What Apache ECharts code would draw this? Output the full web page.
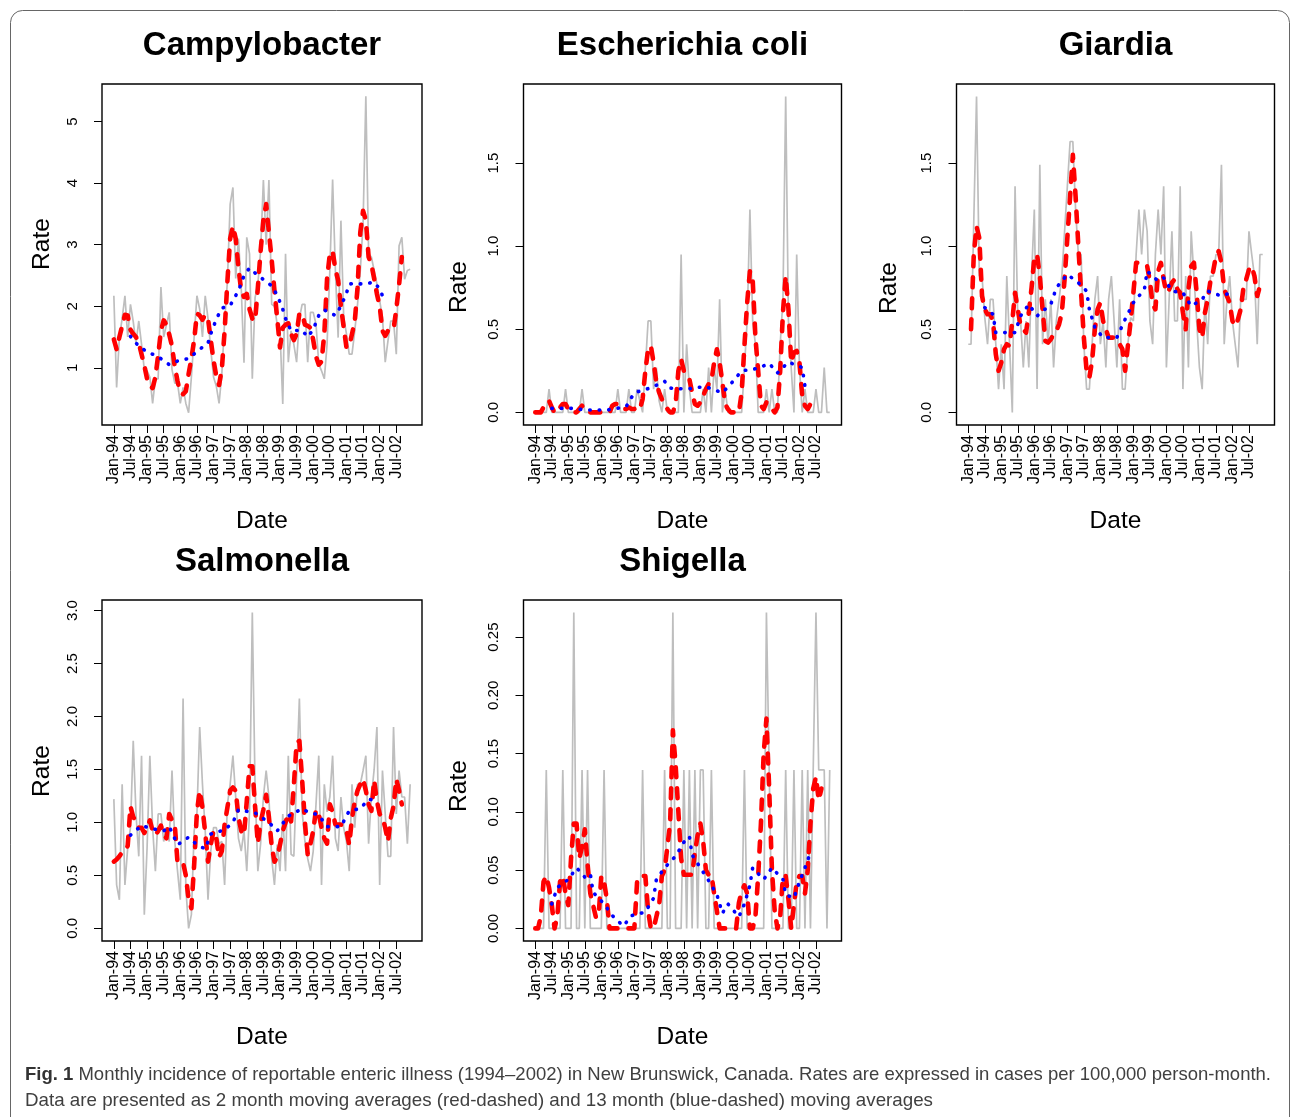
<!DOCTYPE html>
<html><head><meta charset="utf-8">
<script src="https://cdn.jsdelivr.net/npm/echarts@6.0.0/dist/echarts.min.js"></script>
<style>html,body{margin:0;padding:0;background:#fff}#c{width:1290px;height:1117px}</style>
</head><body><div id="c"></div>
<script>
// ---------- shared axis data ----------
const xTickMonths = [0,6,12,18,24,30,36,42,48,54,60,66,72,78,84,90,96,102];
const xTickLabels = ['Jan-94','Jul-94','Jan-95','Jul-95','Jan-96','Jul-96','Jan-97','Jul-97','Jan-98','Jul-98','Jan-99','Jul-99','Jan-00','Jul-00','Jan-01','Jul-01','Jan-02','Jul-02'];

// ---------- Campylobacter ----------
const campyYTicks = [1,2,3,4,5];
const campyYLabels = ['1','2','3','4','5'];
const campyGray = [2.17,0.68,1.50,1.80,2.17,1.50,2.03,1.75,1.40,1.76, 1.38,0.97,0.95,0.85,0.42,0.82,0.82,2.31,1.50,1.70, 1.90,0.97,0.75,0.75,0.42,0.68,0.42,0.27,0.85,1.50, 2.17,1.95,1.50,2.17,1.80,1.30,0.85,0.70,0.42,0.90, 1.75,2.40,3.66,3.93,2.45,3.10,2.30,1.08,3.12,2.85, 0.82,2.14,2.36,2.90,4.05,3.00,4.05,2.03,2.00,1.70, 1.60,0.41,2.85,1.09,1.60,1.38,1.09,1.80,2.03,2.03, 1.09,1.90,1.90,1.71,1.06,0.95,0.82,1.38,2.58,4.06, 2.58,1.49,3.39,1.82,1.55,1.22,1.22,1.60,2.03,2.58, 3.34,5.41,2.85,2.80,2.58,2.36,2.09,1.82,1.09,1.44, 1.76,1.76,1.22,2.98,3.12,2.44,2.58,2.60];
const campyRed = [1.46,1.30,1.50,1.68,1.86,1.85,1.62,1.55,1.50,1.40, 1.22,1.04,0.82,0.70,0.67,0.85,1.20,1.60,1.77,1.70, 1.54,1.35,1.02,0.78,0.60,0.57,0.62,0.90,1.15,1.45, 1.88,1.85,1.78,1.86,1.80,1.45,1.12,0.86,0.72,0.98, 1.60,2.40,3.10,3.30,3.10,2.62,2.25,2.15,2.20,1.95, 1.80,1.76,2.30,2.90,3.40,3.66,3.20,2.75,2.25,1.80, 1.33,1.65,1.70,1.72,1.55,1.45,1.55,1.88,1.88,1.70, 1.68,1.65,1.45,1.18,1.05,1.10,1.55,2.45,2.85,2.90, 2.60,2.42,2.00,1.66,1.33,1.35,1.55,1.75,2.30,3.20, 3.55,3.40,2.80,2.68,2.45,2.20,2.00,1.60,1.52,1.60, 1.60,1.62,1.95,2.35,2.80];
const campyBlueMonths = [6,9,12,16,20,23,27,31,34,35,37,39,42,44,46,47,49,52,55,57,59,61,62,64,68,70,72,74,76,80,82,84,85,87,90,94,96,98];
const campyBlueValues = [1.51,1.35,1.26,1.18,1.05,1.11,1.15,1.30,1.40,1.55,1.79,1.97,2.01,2.17,2.36,2.50,2.62,2.50,2.40,2.33,2.18,1.95,1.80,1.60,1.61,1.50,1.62,1.85,1.94,1.85,2.00,2.21,2.36,2.37,2.36,2.39,2.28,2.06];

// ---------- Escherichia coli ----------
const ecoliYTicks = [0,0.5,1.0,1.5];
const ecoliYLabels = ['0.0','0.5','1.0','1.5'];
const ecoliGray = [0,0,0,0,0,0.14,0,0,0,0, 0,0.14,0,0,0,0,0,0.14,0,0, 0,0,0,0,0,0,0,0,0,0, 0.14,0,0,0,0.14,0,0,0.14,0.07,0, 0.27,0.55,0.55,0.14,0.27,0.07,0,0.14,0,0, 0,0,0,0.95,0,0.41,0.14,0,0,0, 0,0.14,0,0.27,0,0.27,0.14,0.68,0,0.14, 0,0,0,0,0,0,0.27,0.55,1.22,0.55, 0.41,0,0,0,0.14,0,0.14,0,0,0.41, 0.68,1.90,0.55,0.27,0,0.95,0.27,0,0.14,0, 0,0,0.14,0,0,0.27,0,0];
const ecoliRed = [0,0,0,0.03,0.06,0.07,0.03,0,0,0.03, 0.05,0.05,0.02,0,0,0,0.02,0.04,0.02,0, 0,0,0,0,0,0,0,0,0.04,0.05, 0.05,0.04,0.02,0.02,0.03,0.02,0.02,0.03,0.02,0.08, 0.25,0.38,0.40,0.30,0.18,0.12,0.08,0.05,0.02,0, 0,0.05,0.25,0.32,0.25,0.22,0.20,0.12,0.05,0.04, 0.06,0.10,0.14,0.17,0.19,0.30,0.38,0.30,0.18,0.05, 0.02,0,0,0,0,0.12,0.40,0.66,0.85,0.80, 0.45,0.25,0.04,0.02,0.06,0.04,0.02,0,0.03,0.25, 0.60,0.82,0.62,0.30,0.36,0.37,0.30,0.10,0.04,0.02, 0.05,0.06,0.07,0.08];
const ecoliBlueMonths = [6,13,19,26,33,36,42,47,49,55,59,62,68,71,75,81,85,88,92,97,98];
const ecoliBlueValues = [0.024,0.024,0.014,0.014,0.034,0.118,0.148,0.187,0.146,0.140,0.150,0.154,0.118,0.170,0.250,0.265,0.295,0.237,0.303,0.270,0.158];

// ---------- Giardia ----------
const giardiaYTicks = [0,0.5,1.0,1.5];
const giardiaYLabels = ['0.0','0.5','1.0','1.5'];
const giardiaGray = [0.41,0.41,1.15,1.90,0.82,0.82,0.57,0.41,0.68,0.68, 0.41,0.14,0.41,0.14,0.82,0.41,0.00,1.36,0.55,0.55, 0.27,0.55,0.27,0.82,1.22,0.14,1.49,0.41,0.68,0.41, 0.68,0.27,0.55,0.68,0.82,1.09,1.36,1.63,1.63,1.22, 0.95,0.95,0.41,0.14,0.14,0.41,0.68,0.82,0.41,0.55, 0.27,0.68,0.82,0.55,0.27,0.68,0.14,0.14,0.41,0.57, 0.55,0.95,1.22,0.95,1.22,1.09,0.55,0.41,0.95,1.22, 0.95,1.36,0.27,0.68,1.09,0.55,0.55,1.36,0.14,0.82, 0.27,1.09,0.82,0.55,0.27,0.14,0.68,0.41,0.82,0.82, 0.95,0.95,1.49,0.41,0.68,0.82,0.55,0.41,0.27,0.68, 0.68,0.68,1.09,0.95,0.82,0.41,0.95,0.95];
const giardiaRed = [null,0.50,0.95,1.12,1.05,0.70,0.62,0.59,0.59,0.55, 0.35,0.25,0.30,0.38,0.41,0.40,0.55,0.72,0.62,0.52, 0.50,0.48,0.60,0.75,0.93,0.95,0.82,0.62,0.43,0.42, 0.44,0.47,0.49,0.53,0.60,0.80,1.05,1.30,1.55,1.30, 1.00,0.72,0.45,0.25,0.21,0.31,0.50,0.62,0.66,0.55, 0.50,0.45,0.45,0.45,0.43,0.41,0.38,0.25,0.40,0.55, 0.72,0.90,0.90,0.89,0.88,0.88,0.79,0.65,0.62,0.85, 0.90,0.80,0.72,0.74,0.78,0.80,0.74,0.72,0.60,0.50, 0.74,0.88,0.90,0.72,0.50,0.45,0.60,0.68,0.79,0.85, 0.94,0.97,0.90,0.74,0.70,0.66,0.55,0.52,0.56,0.62, 0.75,0.80,0.86,0.88,0.82,0.70,0.76];
const giardiaBlueMonths = [6,9,10,13,17,19,22,25,30,32,36,40,43,44,46,49,54,57,60,64,65,69,71,74,78,81,85,87,92,97];
const giardiaBlueValues = [0.63,0.59,0.48,0.48,0.48,0.58,0.65,0.58,0.65,0.75,0.83,0.78,0.73,0.62,0.51,0.45,0.45,0.56,0.66,0.74,0.85,0.79,0.81,0.73,0.72,0.64,0.68,0.73,0.70,0.73];

// ---------- Salmonella ----------
const salmYTicks = [0,0.5,1.0,1.5,2.0,2.5,3.0];
const salmYLabels = ['0.0','0.5','1.0','1.5','2.0','2.5','3.0'];
const salmGray = [1.22,0.41,0.27,1.36,0.41,0.76,0.95,1.77,1.08,0.68, 1.63,0.13,0.76,1.63,0.95,0.54,1.08,1.08,0.82,0.95, 0.82,1.49,0.82,0.54,0.27,2.17,0.38,0.00,0.13,0.92, 1.08,1.90,1.36,0.92,0.27,0.73,0.95,0.95,0.80,0.82, 0.41,1.17,1.36,1.63,1.24,0.85,0.73,0.92,0.54,1.10, 2.98,1.33,0.54,0.80,1.24,1.49,1.24,0.66,0.41,0.79, 0.54,1.08,0.54,1.63,0.70,0.68,1.42,2.17,1.10,0.82, 0.66,0.54,0.73,1.17,1.63,0.41,1.36,1.10,1.24,1.63, 0.85,0.73,1.24,0.95,0.82,0.54,1.36,0.95,1.36,1.36, 1.49,1.63,0.80,1.24,1.50,1.90,0.41,1.49,1.08,0.68, 0.68,1.90,1.08,1.49,1.24,1.24,0.80,1.36];
const salmRed = [0.63,0.65,0.68,0.72,0.73,0.78,1.15,1.05,1.02,0.95, 0.95,0.90,0.95,1.02,0.92,0.88,0.92,0.97,0.88,0.85, 1.08,1.02,0.98,0.62,0.62,0.62,0.50,0.27,0.19,0.60, 1.10,1.30,1.14,0.90,0.63,0.79,0.92,0.85,0.67,0.73, 0.98,1.14,1.30,1.33,1.30,1.05,0.92,0.88,1.20,1.53, 1.53,1.15,0.80,1.00,1.12,1.26,1.05,0.78,0.63,0.67, 0.79,0.92,1.00,1.08,1.01,1.35,1.75,1.77,1.40,1.00, 0.70,0.80,0.92,1.12,1.08,0.95,0.85,0.80,1.17,1.10, 0.98,0.98,0.98,0.97,0.92,0.79,1.04,1.20,1.30,1.36, 1.41,1.30,1.17,1.11,1.40,1.20,1.08,1.05,0.95,0.82, 1.04,1.15,1.41,1.30,1.17];
const salmBlueMonths = [6,10,14,18,20,23,27,30,33,35,40,43,45,51,56,59,63,68,70,74,77,82,85,89,92,96];
const salmBlueValues = [0.88,0.97,0.94,0.92,0.96,0.79,0.86,0.79,0.75,0.89,0.93,1.00,1.12,1.09,1.00,0.92,1.06,1.13,1.10,1.07,0.96,0.96,1.11,1.13,1.22,1.20];

// ---------- Shigella ----------
const shigYTicks = [0,0.05,0.10,0.15,0.20,0.25];
const shigYLabels = ['0.00','0.05','0.10','0.15','0.20','0.25'];
const shigGray = [0,0,0,0,0.136,0,0,0,0,0, 0.136,0,0,0,0.271,0,0,0.136,0,0.136, 0,0,0,0,0,0.136,0,0,0,0, 0,0,0,0,0,0,0,0,0,0.136, 0,0,0,0,0,0,0,0.136,0,0, 0.271,0,0,0,0.136,0,0.136,0,0.136,0, 0.136,0.136,0,0,0.136,0,0,0,0,0, 0,0,0,0,0,0,0.136,0,0,0, 0,0,0,0,0.271,0.136,0,0,0,0, 0,0.136,0,0,0.136,0,0,0.136,0,0.136, 0,0.136,0.271,0.136,0.136,0.136,0,0.136];
const shigRed = [0,0,0.01,0.04,0.045,0.035,0.02,0,0.01,0.04, 0.045,0.03,0.02,0.06,0.09,0.09,0.06,0.07,0.085,0.055, 0.03,0.02,0.01,0.01,0.045,0.04,0.025,0,0,0, 0,0,0,0,0,0,0,0.04,0.045,0.045, 0.045,0.015,0,0,0.01,0.02,0.045,0.05,0.07,0.09, 0.17,0.14,0.10,0.06,0.046,0.046,0.046,0.046,0.065,0.08, 0.09,0.075,0.05,0.046,0.046,0.03,0.015,0,0,0, 0,0,0,0,0.022,0.032,0.037,0.03,0,0, 0.01,0.045,0.09,0.15,0.18,0.12,0.05,0.015,0,0.01, 0.045,0.045,0.025,0,0.02,0.04,0.045,0.045,0.03,0.05, 0.09,0.12,0.13,0.11,0.12];
const shigBlueMonths = [6,8,12,15,18,20,21,25,28,32,35,40,43,44,47,51,54,56,57,60,63,66,68,70,74,76,78,79,83,86,90,91,94,96,98,100];
const shigBlueValues = [0.021,0.035,0.042,0.052,0.044,0.047,0.031,0.021,0.011,0.002,0.011,0.014,0.026,0.042,0.052,0.062,0.074,0.079,0.063,0.052,0.041,0.029,0.013,0.021,0.010,0.021,0.037,0.052,0.042,0.052,0.042,0.029,0.026,0.040,0.052,0.065];

const captionLine1Bold = 'Fig. 1';
const captionLine1 = ' Monthly incidence of reportable enteric illness (1994\u20132002) in New Brunswick, Canada. Rates are expressed in cases per 100,000 person-month.';
const captionLine2 = 'Data are presented as 2 month moving averages (red-dashed) and 13 month (blue-dashed) moving averages';

// ---------- layout ----------
const FONT = "'Liberation Sans', Arial, Helvetica, sans-serif";
const panels = [
  {title:'Campylobacter', left:102, top:84, width:320, height:341, yMin:0.07, yMax:5.61, yTicks:campyYTicks, yLabels:campyYLabels, gray:campyGray, red:campyRed, bm:campyBlueMonths, bv:campyBlueValues, rateX:42, rateY:244},
  {title:'Escherichia coli', left:523.5, top:84, width:318, height:341, yMin:-0.076, yMax:1.976, yTicks:ecoliYTicks, yLabels:ecoliYLabels, gray:ecoliGray, red:ecoliRed, bm:ecoliBlueMonths, bv:ecoliBlueValues, rateX:459, rateY:287},
  {title:'Giardia', left:956.5, top:84, width:318, height:341, yMin:-0.076, yMax:1.976, yTicks:giardiaYTicks, yLabels:giardiaYLabels, gray:giardiaGray, red:giardiaRed, bm:giardiaBlueMonths, bv:giardiaBlueValues, rateX:889, rateY:288},
  {title:'Salmonella', left:102, top:600, width:320, height:341, yMin:-0.119, yMax:3.099, yTicks:salmYTicks, yLabels:salmYLabels, gray:salmGray, red:salmRed, bm:salmBlueMonths, bv:salmBlueValues, rateX:42, rateY:771},
  {title:'Shigella', left:523.5, top:600, width:318, height:341, yMin:-0.0108, yMax:0.2818, yTicks:shigYTicks, yLabels:shigYLabels, gray:shigGray, red:shigRed, bm:shigBlueMonths, bv:shigBlueValues, rateX:459, rateY:786}
];

function findLabel(ticks, labels, v){
  for (let i=0;i<ticks.length;i++){ if (Math.abs(ticks[i]-v) < 1e-9) return labels[i]; }
  return '';
}

const grids=[], xAxes=[], yAxes=[], series=[], graphics=[];
panels.forEach((p, i) => {
  grids.push({left:p.left, top:p.top, width:p.width, height:p.height, show:true, borderColor:'#000', borderWidth:1.4, backgroundColor:'rgba(0,0,0,0)', containLabel:false, outerBoundsMode:'none'});
  xAxes.push({type:'value', gridIndex:i, min:-4.28, max:111.28, position:'bottom',
    axisLine:{show:false, onZero:false}, splitLine:{show:false},
    axisTick:{show:true, inside:false, length:8, customValues:xTickMonths, lineStyle:{color:'#000', width:1}},
    axisLabel:{show:true, customValues:xTickMonths, rotate:90, margin:10, color:'#000', fontSize:16, fontFamily:FONT,
      showMinLabel:true, showMaxLabel:true, hideOverlap:false,
      formatter:(v)=>findLabel(xTickMonths, xTickLabels, v)}
  });
  yAxes.push({type:'value', gridIndex:i, min:p.yMin, max:p.yMax, position:'left',
    axisLine:{show:false, onZero:false}, splitLine:{show:false},
    axisTick:{show:true, inside:false, length:8, customValues:p.yTicks, lineStyle:{color:'#000', width:1}},
    axisLabel:{show:true, customValues:p.yTicks, rotate:90, margin:22, color:'#000', fontSize:15, fontFamily:FONT,
      showMinLabel:true, showMaxLabel:true, hideOverlap:false,
      formatter:(v)=>findLabel(p.yTicks, p.yLabels, v)}
  });
  series.push({type:'line', xAxisIndex:i, yAxisIndex:i, symbol:'none', silent:true, z:2,
    lineStyle:{color:'#bebebe', width:1.7}, data:p.gray.map((v,k)=>[k,v])});
  const redData=[]; p.red.forEach((v,k)=>{ if(v!==null) redData.push([k,v]); });
  series.push({type:'line', xAxisIndex:i, yAxisIndex:i, symbol:'none', silent:true, z:3,
    lineStyle:{color:'#ff0000', width:4.6, type:[10,11], cap:'round', join:'round'}, data:redData});
  series.push({type:'line', xAxisIndex:i, yAxisIndex:i, symbol:'none', silent:true, z:4,
    lineStyle:{color:'#0000ff', width:3.6, type:[0.5,9], cap:'round'}, data:p.bm.map((m,k)=>[m,p.bv[k]])});

  const cx = p.left + p.width/2;
  graphics.push({type:'text', x:cx, y:p.top-38, style:{text:p.title, fill:'#000', font:'bold 33px '+FONT, align:'center', verticalAlign:'middle'}});
  graphics.push({type:'text', x:cx, y:p.top+p.height+96, style:{text:'Date', fill:'#000', font:'24.5px '+FONT, align:'center', verticalAlign:'middle'}});
  graphics.push({type:'text', x:p.rateX, y:p.rateY, rotation:Math.PI/2, style:{text:'Rate', fill:'#000', font:'24.5px '+FONT, align:'center', verticalAlign:'middle'}});
});

// caption with fitted width
const cv = document.createElement('canvas').getContext('2d');
cv.font = 'bold 18.5px '+FONT; const wb = cv.measureText(captionLine1Bold).width;
cv.font = '18.5px '+FONT; const w1 = cv.measureText(captionLine1).width; const w2 = cv.measureText(captionLine2).width;
const s1 = 1246/(wb+w1), s2 = 908/w2;
graphics.push({type:'text', x:25, y:1075, scaleX:s1, style:{text:'{b|'+captionLine1Bold+'}'+captionLine1, fill:'#404040', font:'18.5px '+FONT, verticalAlign:'middle', rich:{b:{fontWeight:'bold', fontSize:18.5, fontFamily:FONT, fill:'#333'}}}});
graphics.push({type:'text', x:25, y:1101, scaleX:s2, style:{text:captionLine2, fill:'#404040', font:'18.5px '+FONT, verticalAlign:'middle'}});
graphics.push({type:'rect', z:-10, shape:{x:10.5, y:10.5, width:1279, height:1150, r:12}, style:{fill:'none', stroke:'#666', lineWidth:1}});

const chart = echarts.init(document.getElementById('c'), null, {renderer:'canvas', width:1290, height:1117});
chart.setOption({animation:false, backgroundColor:'#fff', grid:grids, xAxis:xAxes, yAxis:yAxes, series:series, graphic:graphics});
</script></body></html>
